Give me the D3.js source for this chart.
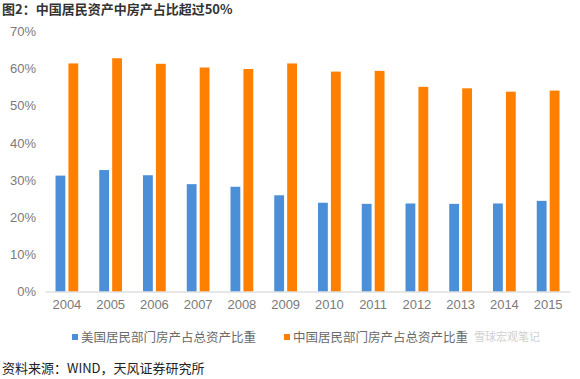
<!DOCTYPE html>
<html><head><meta charset="utf-8">
<script src="https://cdn.jsdelivr.net/npm/d3@7"></script>
<style>
body{margin:0;background:#fff;}
svg{display:block;font-family:"Noto Sans CJK SC","Liberation Sans",sans-serif;}
</style></head>
<body><svg id="c" width="580" height="379"></svg>
<script>
const years = ["2004","2005","2006","2007","2008","2009","2010","2011","2012","2013","2014","2015"];
const usShare = [31.2,32.7,31.3,28.9,28.2,25.9,23.9,23.6,23.7,23.6,23.7,24.4];
const cnShare = [61.4,62.8,61.3,60.3,59.9,61.4,59.2,59.4,55.1,54.7,53.8,54.1];
const seriesNames = ["美国居民部门房产占总资产比重","中国居民部门房产占总资产比重"];
const yTicks = [0,10,20,30,40,50,60,70];
const colors = ["#4a8fd8","#ff7f00"];

const svg = d3.select("#c");
const mLeft = 45, mRight = 570, mTop = 31.5, mBottom = 291.5;
const x = d3.scaleBand().domain(years).range([mLeft, mRight]).paddingInner(0).paddingOuter(0);
const x1 = d3.scaleBand().domain([0,1]).range([x.bandwidth()*0.24, x.bandwidth()*0.76]).paddingInner(0.24);
const y = d3.scaleLinear().domain([0,70]).range([mBottom, mTop]);

// title
svg.append("text").attr("x",2).attr("y",14).attr("font-size",13).attr("font-weight","bold")
  .attr("fill","#333").text("图2：中国居民资产中房产占比超过50%");

// y axis labels
const ya = svg.append("g").attr("transform",`translate(${mLeft},0)`)
  .call(d3.axisLeft(y).tickValues(yTicks).tickFormat(d=>d+"%").tickSize(0).tickPadding(9));
ya.select(".domain").remove();
ya.selectAll("text").attr("font-size",13).attr("fill","#7a7a7a").attr("font-family","Liberation Sans, sans-serif");

// bars
const series = [usShare, cnShare];
series.forEach((vals,si)=>{
  svg.append("g").selectAll("rect").data(years).join("rect")
    .attr("x",(d)=>x(d)+x1(si))
    .attr("width",x1.bandwidth())
    .attr("y",(d,i)=>y(vals[i]))
    .attr("height",(d,i)=>y(0)-y(vals[i]))
    .attr("fill",colors[si]);
});

// x axis
const xa = svg.append("g").attr("transform",`translate(0,${mBottom})`)
  .call(d3.axisBottom(x).tickSize(0).tickPadding(8));
xa.select(".domain").attr("stroke","#d0d0d0");
xa.selectAll("text").attr("font-size",13).attr("fill","#7a7a7a").attr("font-family","Liberation Sans, sans-serif");

// legend
const legX = [72, 284];
seriesNames.forEach((n,i)=>{
  svg.append("rect").attr("x",legX[i]).attr("y",334).attr("width",6).attr("height",6).attr("fill",colors[i]);
  svg.append("text").attr("x",legX[i]+9).attr("y",342).attr("font-size",12.5).attr("fill","#6a6a6a").text(n);
});

// watermark
svg.append("text").attr("x",474).attr("y",341).attr("font-size",11).attr("fill","#cfcfcf").text("雪球宏观笔记");

// source
svg.append("text").attr("x",2).attr("y",373).attr("font-size",13).attr("fill","#222").text("资料来源：WIND，天风证券研究所");
</script></body></html>
